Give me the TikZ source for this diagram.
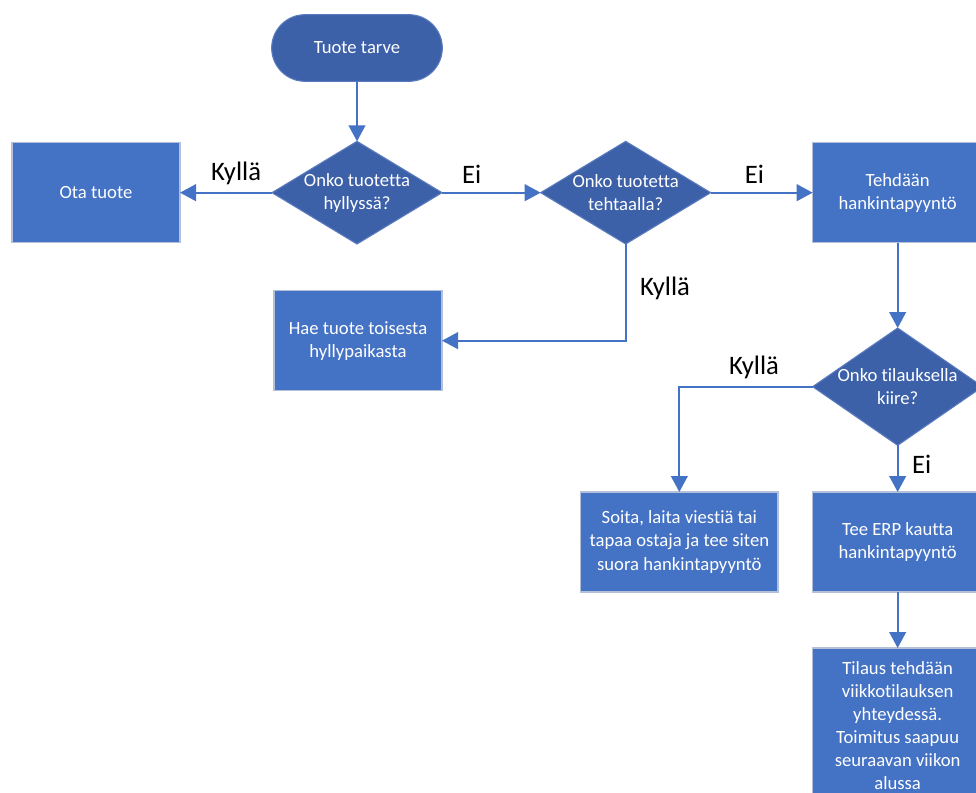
\documentclass[tikz,border=0pt]{standalone}
\usepackage{fontspec}
\setmainfont{Carlito}[Ligatures=NoCommon]
\usetikzlibrary{arrows.meta, positioning, shapes.geometric}
\definecolor{boxblue}{HTML}{4472C4}
\definecolor{decblue}{HTML}{3D61A9}
\definecolor{boxedge}{HTML}{B4C0D8}
\definecolor{decedge}{HTML}{5A7BBE}
\definecolor{flowline}{HTML}{4472C4}
\newcommand{\flowfont}{\fontsize{14}{17.3}\selectfont}
\newcommand{\edgefont}{\fontsize{20}{24}\selectfont}
\tikzset{
  startstop/.style = {draw=decedge, fill=decblue, rectangle, rounded corners=25pt,
                      text=white, font=\flowfont, line width=0.8pt,
                      minimum width=128pt, minimum height=50pt, outer sep=0pt},
  task/.style      = {draw=boxedge, fill=boxblue, rectangle, align=center,
                      text=white, font=\flowfont, line width=0.8pt, inner sep=2pt,
                      minimum width=126pt, minimum height=75pt, outer sep=0pt},
  decision/.style  = {draw=decedge, fill=decblue, diamond, line width=0.8pt,
                      minimum width=127.5pt, minimum height=77pt,
                      inner sep=0pt, outer sep=0pt},
  dtext/.style     = {text=white, align=center, font=\flowfont, inner sep=0pt},
  arr/.style       = {draw=flowline, line width=1.6pt,
                      -{Triangle[length=12pt, width=12.5pt]}},
  lbl/.style       = {font=\edgefont, text=black, inner sep=2pt}
}
\begin{document}
\begin{tikzpicture}

  \useasboundingbox (0,0) rectangle (732pt,-594.75pt);

  % --- top row --------------------------------------------------------------
  \node[startstop] (start) at (267.75pt,-36pt) {Tuote tarve};

  \node[decision, below=45pt of start,
        label={[dtext]center:{Onko tuotetta\\hyllyssä?}}] (shelf) {};

  \node[task, left=69pt of shelf] (take) {Ota tuote};

  \node[decision, right=74pt of shelf,
        label={[dtext]center:{Onko tuotetta\\tehtaalla?}}] (factory) {};

  \node[task, right=76.5pt of factory, minimum width=127.5pt] (request)
    {Tehdään\\hankintapyyntö};

  \node[task, below=35pt of shelf, xshift=0.75pt] (other)
    {Hae tuote toisesta\\hyllypaikasta};

  % --- right column ---------------------------------------------------------
  \node[decision, below=64pt of request, minimum height=88pt,
        label={[dtext]center:{Onko tilauksella\\kiire?}}] (urgent) {};

  \node[task, below=35pt of urgent, minimum width=127.5pt] (erp)
    {Tee ERP kautta\\hankintapyyntö};

  \node[task, left=26pt of erp, minimum width=148pt] (phone)
    {Soita, laita viestiä tai\\tapaa ostaja ja tee siten\\suora hankintapyyntö};

  \node[task, below=42pt of erp, minimum width=127.5pt, minimum height=116pt] (order)
    {Tilaus tehdään\\viikkotilauksen\\yhteydessä.\\Toimitus saapuu\\seuraavan viikon\\alussa};

  % --- connectors -----------------------------------------------------------
  \draw[arr] (start.south) -- (shelf.north);
  \draw[arr] (shelf.west) -- node[lbl, above=3pt, pos=0.39]{Kyllä} (take.east);
  \draw[arr] (shelf.east) -- node[lbl, above=4pt, pos=0.3]{Ei} (factory.west);
  \draw[arr] (factory.east) -- node[lbl, above=4pt, pos=0.43]{Ei} (request.west);
  \draw[arr] (factory.south) |- node[lbl, right=8pt, pos=0.23]{Kyllä} (other.east);
  \draw[arr] (request.south) -- (urgent.north);
  \draw[arr] (urgent.west) -| node[lbl, above=3pt, pos=0.22]{Kyllä} (phone.north);
  \draw[arr] (urgent.south) -- node[lbl, right=8pt, pos=0.4]{Ei} (erp.north);
  \draw[arr] (erp.south) -- (order.north);

\end{tikzpicture}
\end{document}
